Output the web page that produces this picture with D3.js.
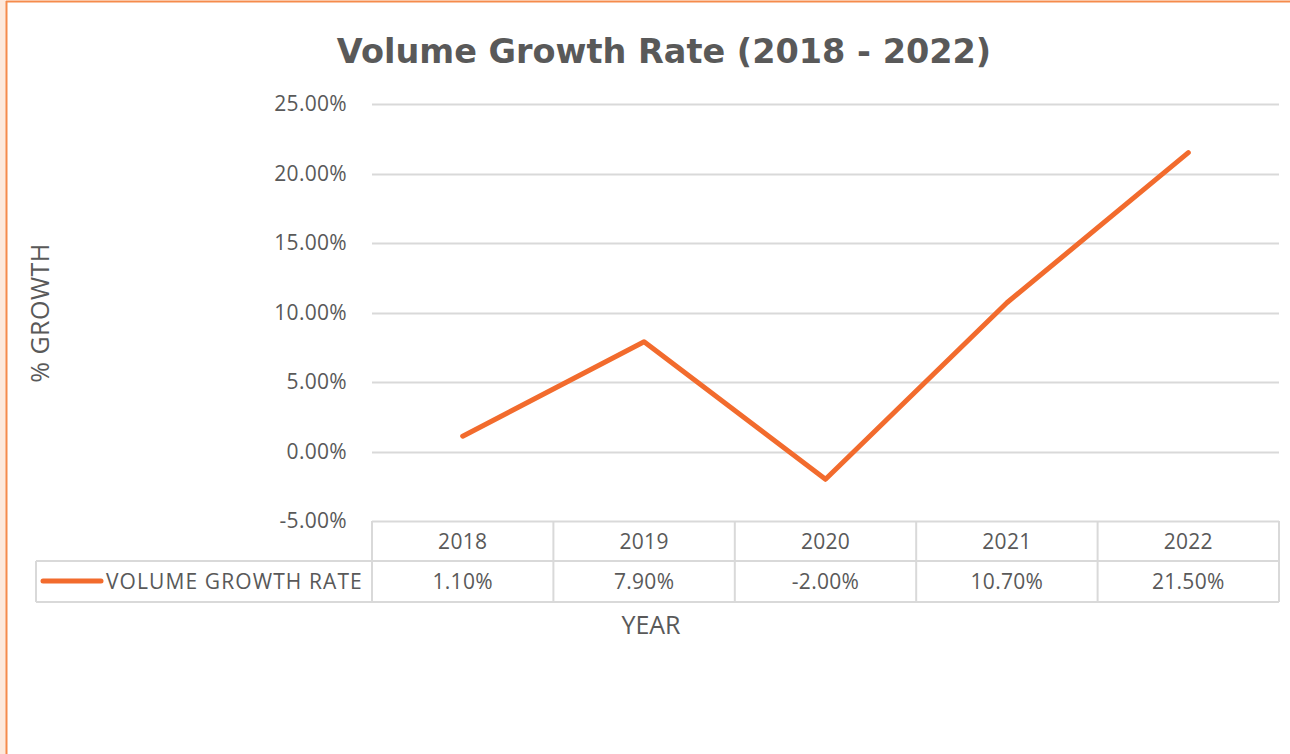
<!DOCTYPE html>
<html>
<head>
<meta charset="utf-8">
<script src="https://cdn.jsdelivr.net/npm/d3@7"></script>
<style>
  body { margin: 0; background: #fff; }
  svg text { fill: #595959; font-family: "Open Sans", sans-serif; }
</style>
</head>
<body>
<svg width="1290" height="754"></svg>
<script>
const years = ['2018', '2019', '2020', '2021', '2022'];
const growth = [1.1, 7.9, -2.0, 10.7, 21.5];
const yTicks = [-5, 0, 5, 10, 15, 20, 25];
const seriesName = 'VOLUME GROWTH RATE';

const svg = d3.select('svg');
const pct = d3.formatLocale({decimal: '.', thousands: ',', grouping: [3], currency: ['', ''], minus: '-'}).format('.2f');

// frame like the office chart border
svg.append('rect').attr('x', 0).attr('y', 0).attr('width', 6).attr('height', 754).style('fill', '#fde9dc');
svg.append('line').attr('x1', 6.5).attr('x2', 6.5).attr('y1', 1).attr('y2', 754)
    .style('stroke', '#f58b4c').style('stroke-width', 2);
svg.append('line').attr('x1', 6).attr('x2', 1290).attr('y1', 1.5).attr('y2', 1.5)
    .style('stroke', '#f58b4c').style('stroke-width', 2);

const left = 372, right = 1279;
const x = d3.scaleBand().domain(years).range([left, right]);
const y = d3.scaleLinear().domain([-5, 25]).range([521, 104]);

// gridlines
svg.append('g')
    .selectAll('line')
    .data(yTicks)
    .enter()
    .append('line')
    .attr('x1', left).attr('x2', right)
    .attr('y1', d => Math.round(y(d)) + 0.5).attr('y2', d => Math.round(y(d)) + 0.5)
    .style('stroke', '#d9d9d9').style('stroke-width', 2);

// y tick labels
svg.append('g')
    .selectAll('text')
    .data(yTicks)
    .enter()
    .append('text')
    .attr('x', 347)
    .attr('y', d => y(d) + 7)
    .attr('text-anchor', 'end')
    .style('font-size', '21px')
    .style('letter-spacing', '0.3px')
    .text(d => pct(d) + '%');

// data table
const rowTop = 521, rowMid = 561, rowBot = 602, legLeft = 36;
const tbl = svg.append('g').style('stroke', '#d9d9d9').style('stroke-width', 2).style('fill', 'none');
tbl.append('line').attr('x1', legLeft).attr('x2', right).attr('y1', rowMid).attr('y2', rowMid);
tbl.append('line').attr('x1', legLeft).attr('x2', right).attr('y1', rowBot).attr('y2', rowBot);
tbl.append('line').attr('x1', legLeft).attr('x2', legLeft).attr('y1', rowMid).attr('y2', rowBot);
tbl.selectAll('line.v')
    .data(years.map(d => x(d)).concat([right]))
    .enter()
    .append('line')
    .attr('class', 'v')
    .attr('x1', d => d).attr('x2', d => d)
    .attr('y1', rowTop).attr('y2', rowBot);

svg.append('g')
    .selectAll('text')
    .data(years)
    .enter()
    .append('text')
    .attr('x', d => x(d) + x.bandwidth() / 2)
    .attr('y', 549)
    .attr('text-anchor', 'middle')
    .style('font-size', '21px')
    .style('letter-spacing', '0.3px')
    .text(d => d);

svg.append('g')
    .selectAll('text')
    .data(growth)
    .enter()
    .append('text')
    .attr('x', (d, i) => x(years[i]) + x.bandwidth() / 2)
    .attr('y', 589)
    .attr('text-anchor', 'middle')
    .style('font-size', '21px')
    .style('letter-spacing', '0.3px')
    .text(d => pct(d) + '%');

// legend key in table
svg.append('line')
    .attr('x1', 43).attr('x2', 101).attr('y1', 581).attr('y2', 581)
    .style('stroke', '#f26b2d').style('stroke-width', 5).style('stroke-linecap', 'round');
svg.append('text')
    .attr('x', 106).attr('y', 589)
    .style('font-size', '21px')
    .style('letter-spacing', '1.1px')
    .text(seriesName);

// the line
let lineGen = d3.line()
    .x((d, i) => x(years[i]) + x.bandwidth() / 2)
    .y(d => y(d));

svg.append('path')
    .datum(growth)
    .attr('d', lineGen)
    .style('fill', 'none')
    .style('stroke', '#f26b2d')
    .style('stroke-width', 5)
    .style('stroke-linecap', 'round')
    .style('stroke-linejoin', 'round');

// titles
svg.append('text')
    .attr('x', 664).attr('y', 63)
    .attr('text-anchor', 'middle')
    .style('font-family', '"DejaVu Sans", sans-serif')
    .style('font-weight', 'bold')
    .style('font-size', '33.5px')
    .text('Volume Growth Rate (2018 - 2022)');

svg.append('text')
    .attr('x', 651).attr('y', 634)
    .attr('text-anchor', 'middle')
    .style('font-size', '25px')
    .text('YEAR');

svg.append('text')
    .attr('transform', 'translate(49,313) rotate(-90)')
    .attr('text-anchor', 'middle')
    .style('font-size', '25px')
    .style('letter-spacing', '0.5px')
    .text('% GROWTH');
</script>
</body>
</html>
